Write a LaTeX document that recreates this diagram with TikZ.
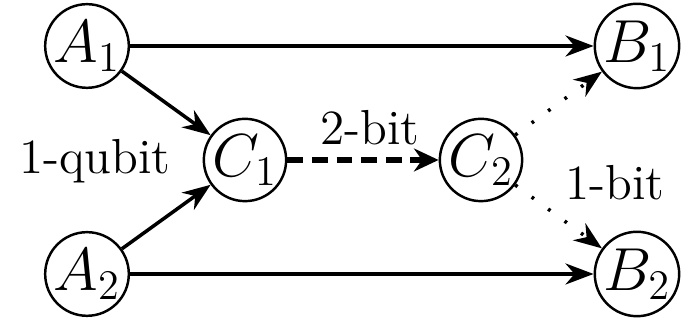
\documentclass[tikz,border=0pt]{standalone}
\usepackage{amsmath, amssymb}
\usepackage{tikz}
\usetikzlibrary{arrows.meta,positioning}

\tikzset{
  party/.style={draw, circle, line width=0.7pt, inner sep=0pt, minimum size=0.78cm, font=\fontsize{16.5}{18}\selectfont},
  quantum/.style={line width=1pt, -{Stealth[length=8pt, width=6pt]}},
  classical/.style={line width=1.8pt, dash pattern=on 4.5pt off 2.5pt, -{Stealth[length=7pt, width=6.5pt]}},
  onebit/.style={line width=1pt, dash pattern=on 0.8pt off 5pt, -{Stealth[length=8pt, width=6pt]}},
  lbl/.style={font=\fontsize{14}{16}\selectfont}
}

\begin{document}
\begin{tikzpicture}[scale=1]
  \useasboundingbox (0,0) rectangle (6.83,3.21);

  % Parties
  \node[party] (A1) at (0.87,2.75) {$A_1$};
  \node[party] (A2) at (0.87,0.47) {$A_2$};
  \node[party] (C1) at (2.45,1.61) {$C_1$};
  \node[party] (C2) at (4.81,1.61) {$C_2$};
  \node[party] (B1) at (6.37,2.75) {$B_1$};
  \node[party] (B2) at (6.37,0.47) {$B_2$};

  % Channels
  \draw[quantum] (A1) -- (B1);
  \draw[quantum] (A2) -- (B2);
  \draw[quantum] (A1) -- (C1);
  \draw[quantum] (A2) -- (C1);
  \draw[classical] (C1) -- (C2);
  \draw[onebit] (C2) -- (B1);
  \draw[onebit] (C2) -- (B2);

  % Labels
  \node[lbl] (qubit) at (0.95,1.60) {1-qubit};
  \node[lbl] (twobit) at (3.70,1.93) {2-bit};
  \node[lbl] (onebit) at (6.15,1.38) {1-bit};
\end{tikzpicture}
\end{document}
